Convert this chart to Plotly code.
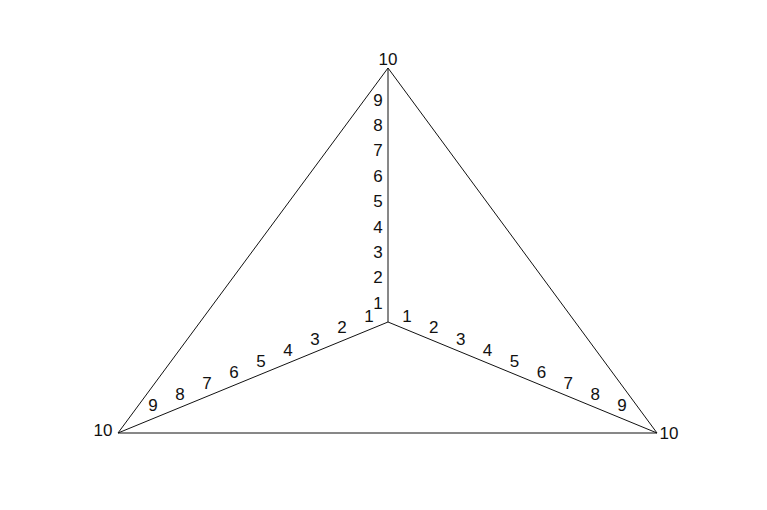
import plotly.graph_objects as go

# Data
tick_values = [1, 2, 3, 4, 5, 6, 7, 8, 9, 10]
axis_max = 10
spokes = ["top", "left", "right"]

# Styling / geometry (pixel-like units, centre at origin)
spoke_end = {"top": (0, 254), "left": (-270, -111), "right": (269, -111)}
label_offset = {"top": (-10, -8), "left": (8, 15), "right": (-8, 15)}
end_label_offset = {"top": (0, 7), "left": (-15, 1), "right": (12, -2)}

def pos(spoke, v):
    ex, ey = spoke_end[spoke]
    return ex * v / axis_max, ey * v / axis_max

fig = go.Figure()
line_style = dict(color="#111111", width=1)

# outer triangle
tri = [pos(s, axis_max) for s in ["top", "right", "left", "top"]]
fig.add_trace(go.Scatter(x=[p[0] for p in tri], y=[p[1] for p in tri], mode="lines",
                         line=line_style, hoverinfo="skip", showlegend=False))
# spokes
for s in spokes:
    p0 = pos(s, 0)
    p1 = pos(s, axis_max)
    fig.add_trace(go.Scatter(x=[p0[0], p1[0]], y=[p0[1], p1[1]], mode="lines",
                             line=line_style, hoverinfo="skip", showlegend=False))

# tick labels
for s in spokes:
    xs, ys, ts = [], [], []
    for v in tick_values:
        px, py = pos(s, v)
        if v == axis_max:
            ox, oy = end_label_offset[s]
        else:
            ox, oy = label_offset[s]
        xs.append(px + ox)
        ys.append(py + oy)
        ts.append(str(v))
    fig.add_trace(go.Scatter(x=xs, y=ys, mode="text", text=ts, textposition="middle center",
                             textfont=dict(family="Liberation Sans, Arial, sans-serif", size=17, color="#111111"),
                             hoverinfo="skip", showlegend=False))

fig.update_layout(
    width=767, height=510,
    margin=dict(l=0, r=0, t=0, b=0),
    paper_bgcolor="white", plot_bgcolor="white",
    xaxis=dict(range=[-380, 387], visible=False, fixedrange=True),
    yaxis=dict(range=[-196, 314], visible=False, fixedrange=True),
)

fig.write_html("out.html", config={"displayModeBar": False})
